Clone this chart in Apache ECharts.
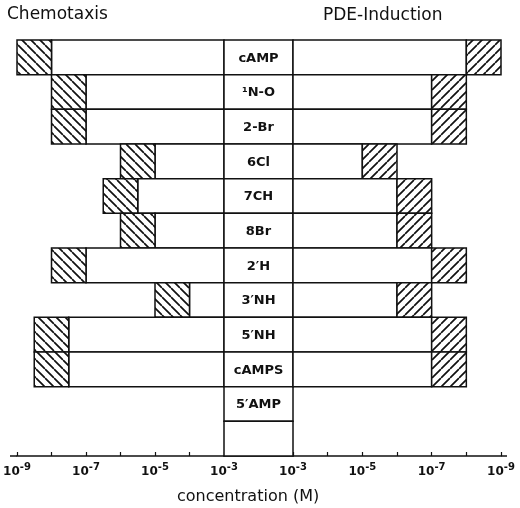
<!DOCTYPE html>
<html>
<head>
<meta charset="utf-8">
<script src="https://cdn.jsdelivr.net/npm/echarts@6/dist/echarts.min.js"></script>
<style>
  html, body { margin: 0; background: #fff; }
  #chart { width: 520px; height: 508px; }
</style>
</head>
<body>
<div id="chart"></div>
<script>
// rows, top to bottom (last one is the empty box above the axis)
const compounds = ['cAMP', '¹N-O', '2-Br', '6Cl', '7CH', '8Br', '2′H', '3′NH', '5′NH', 'cAMPS', '5′AMP', ''];

// hatched box runs from "low" (outer) to "high" (inner) concentration, white bar from high to 10^-3
const chemoLow  = [1e-9, 1e-8, 1e-8, 1e-6, 3.16e-7, 1e-6, 1e-8, 1e-5, 3.16e-9, 3.16e-9, null, null];
const chemoHigh = [1e-8, 1e-7, 1e-7, 1e-5, 3.16e-6, 1e-5, 1e-7, 1e-4, 3.16e-8, 3.16e-8, null, null];
const pdeLow    = [1e-9, 1e-8, 1e-8, 1e-6, 1e-7, 1e-7, 1e-8, 1e-7, 1e-8, 1e-8, null, null];
const pdeHigh   = [1e-8, 1e-7, 1e-7, 1e-5, 1e-6, 1e-6, 1e-7, 1e-6, 1e-7, 1e-7, null, null];

const axisMin = 1e-9;
const axisMax = 1e-3;
const ink = '#111';

const chart = echarts.init(document.getElementById('chart'));

// diagonal hatching as a repeating canvas pattern
const hatch = dir => {
  const s = 9;
  const c = document.createElement('canvas');
  c.width = c.height = s;
  const g = c.getContext('2d');
  g.fillStyle = '#fff';
  g.fillRect(0, 0, s, s);
  g.strokeStyle = ink;
  g.lineWidth = 1.7;
  g.beginPath();
  [-s, 0, s].forEach(k => {
    if (dir > 0) {
      g.moveTo(0, s + k);
      g.lineTo(s, k);
    } else {
      g.moveTo(0, k);
      g.lineTo(s, s + k);
    }
  });
  g.stroke();
  return { image: c, repeat: 'repeat' };
};

const barRender = pattern => (params, api) => {
  const low = api.value(0);
  const high = api.value(1);
  const row = api.value(2);
  const h = api.size([0, 1])[1];
  const yc = api.coord([axisMax, row])[1];
  const xo = api.coord([low, row])[0];
  const xi = api.coord([high, row])[0];
  const xc = api.coord([axisMax, row])[0];
  const rect = (a, b, fill) => ({
    type: 'rect',
    shape: { x: Math.min(a, b), y: yc - h / 2, width: Math.abs(b - a), height: h },
    style: { fill, stroke: ink, lineWidth: 1.5 },
  });
  return { type: 'group', children: [rect(xi, xc, '#fff'), rect(xo, xi, pattern)] };
};

const centerRender = (params, api) => {
  const row = api.value(1);
  const h = api.size([0, 1])[1];
  const p0 = api.coord([0, row]);
  const p1 = api.coord([1, row]);
  return {
    type: 'group',
    children: [
      {
        type: 'rect',
        shape: { x: p0[0], y: p0[1] - h / 2, width: p1[0] - p0[0], height: h },
        style: { fill: '#fff', stroke: ink, lineWidth: 1.5 },
      },
      {
        type: 'text',
        style: {
          text: compounds[params.dataIndex],
          x: (p0[0] + p1[0]) / 2,
          y: p0[1] + 1,
          align: 'center',
          verticalAlign: 'middle',
          font: 'bold 13px "DejaVu Sans"',
          fill: ink,
        },
      },
    ],
  };
};

const logAxis = (gridIndex, inverse) => ({
  type: 'log',
  logBase: 10,
  gridIndex,
  min: axisMin,
  max: axisMax,
  inverse,
  splitNumber: 6,
  axisLine: { show: true, lineStyle: { color: ink, width: 1.5 } },
  axisTick: { show: true, inside: true, length: 4, lineStyle: { color: ink, width: 1.2 } },
  splitLine: { show: false },
  minorTick: { show: false },
  axisLabel: {
    margin: 6,
    color: ink,
    formatter: v => {
      const e = Math.round(Math.log10(v));
      return e % 2 ? '{b|10}{s|' + e + '}' : '';
    },
    rich: {
      b: { fontSize: 12, fontWeight: 'bold', fontFamily: 'DejaVu Sans', color: ink, verticalAlign: 'bottom' },
      s: { fontSize: 10, fontWeight: 'bold', fontFamily: 'DejaVu Sans', color: ink, verticalAlign: 'bottom', padding: [0, 0, 6, 0] },
    },
  },
});

const catAxis = gridIndex => ({
  type: 'category',
  gridIndex,
  data: compounds,
  inverse: true,
  show: false,
});

const rows = (lows, highs) =>
  lows.map((v, i) => [v, highs[i], i]).filter(d => d[0] != null);

chart.setOption({
  animation: false,
  grid: [
    { left: 17, width: 207, top: 40, bottom: 52 },
    { left: 224, width: 69, top: 40, bottom: 52 },
    { left: 293, width: 208, top: 40, bottom: 52 },
  ],
  xAxis: [
    logAxis(0, false),
    {
      type: 'value',
      gridIndex: 1,
      min: 0,
      max: 1,
      axisLine: { show: true, lineStyle: { color: ink, width: 1.5 } },
      axisTick: { show: false },
      axisLabel: { show: false },
      splitLine: { show: false },
    },
    logAxis(2, true),
  ],
  yAxis: [catAxis(0), catAxis(1), catAxis(2)],
  graphic: [
    { type: 'text', left: 7, top: 6, style: { text: 'Chemotaxis', font: '17px "DejaVu Sans"', fill: ink } },
    { type: 'text', left: 323, top: 7, style: { text: 'PDE-Induction', font: '17px "DejaVu Sans"', fill: ink } },
    { type: 'text', left: 177, top: 489, style: { text: 'concentration (M)', font: '16px "DejaVu Sans"', fill: ink } },
    // axis line runs a little past the end ticks in the original
    { type: 'line', shape: { x1: 10, y1: 456, x2: 17, y2: 456 }, style: { stroke: ink, lineWidth: 1.5 } },
    { type: 'line', shape: { x1: 501, y1: 456, x2: 507, y2: 456 }, style: { stroke: ink, lineWidth: 1.5 } },
  ],
  series: [
    {
      type: 'custom',
      name: 'Chemotaxis',
      xAxisIndex: 0,
      yAxisIndex: 0,
      encode: { x: [0, 1], y: 2 },
      renderItem: barRender(hatch(-1)),
      data: rows(chemoLow, chemoHigh),
    },
    {
      type: 'custom',
      name: 'compounds',
      xAxisIndex: 1,
      yAxisIndex: 1,
      encode: { x: 0, y: 1 },
      renderItem: centerRender,
      data: compounds.map((c, i) => [0, i]),
    },
    {
      type: 'custom',
      name: 'PDE-Induction',
      xAxisIndex: 2,
      yAxisIndex: 2,
      encode: { x: [0, 1], y: 2 },
      renderItem: barRender(hatch(1)),
      data: rows(pdeLow, pdeHigh),
    },
  ],
});
</script>
</body>
</html>
